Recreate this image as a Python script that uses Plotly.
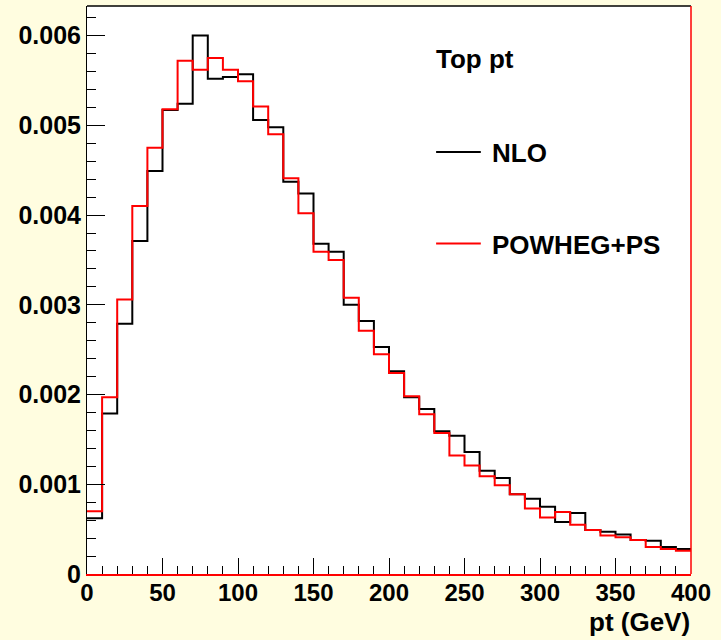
import plotly.graph_objects as go

# Top-quark transverse momentum, 10 GeV bins from 0 to 400 GeV
bin_edges = list(range(0, 410, 10))

nlo = [
    0.00062, 0.00179, 0.00279, 0.00371, 0.00449, 0.00517, 0.00524, 0.00600,
    0.00552, 0.00554, 0.00557, 0.00506, 0.00498, 0.00437, 0.00424, 0.00368,
    0.00359, 0.00300, 0.00282, 0.00253, 0.00226, 0.00197, 0.00184, 0.00159,
    0.00154, 0.00136, 0.00115, 0.00107, 0.00089, 0.00084, 0.00075, 0.00058,
    0.00068, 0.00049, 0.00047, 0.00044, 0.00038, 0.00037, 0.00030, 0.00028,
]

powheg_ps = [
    0.00070, 0.00197, 0.00306, 0.00410, 0.00475, 0.00518, 0.00572, 0.00562,
    0.00575, 0.00562, 0.00549, 0.00521, 0.00490, 0.00441, 0.00402, 0.00359,
    0.00350, 0.00308, 0.00271, 0.00245, 0.00224, 0.00198, 0.00178, 0.00157,
    0.00132, 0.00121, 0.00109, 0.00099, 0.00089, 0.00073, 0.00063, 0.00069,
    0.00055, 0.00049, 0.00043, 0.00041, 0.00038, 0.00030, 0.00028, 0.00026,
]

series_names = ["NLO", "POWHEG+PS"]
series_colors = ["#000000", "#ff0000"]

x_tickvals = [0, 50, 100, 150, 200, 250, 300, 350, 400]
y_tickvals = [0, 0.001, 0.002, 0.003, 0.004, 0.005, 0.006]
y_ticktext = ["0", "0.001", "0.002", "0.003", "0.004", "0.005", "0.006"]

title_text = "Top pt"
x_title = "pt (GeV)"

FONT = "Liberation Sans, Arial, Helvetica, sans-serif"
FS_X = 24
FS_Y = 25
FS_TEXT = 26
BG = "#fffde0"

fig = go.Figure()
for vals, color, name in zip([nlo, powheg_ps], series_colors, series_names):
    fig.add_trace(go.Scatter(
        x=bin_edges,
        y=vals + [vals[-1]],
        mode="lines",
        line=dict(shape="hv", color=color, width=2),
        name=name,
        hoverinfo="skip",
    ))

fig.update_layout(
    width=721,
    height=640,
    margin=dict(l=87, r=30, t=6, b=66),
    paper_bgcolor=BG,
    plot_bgcolor="#ffffff",
    showlegend=False,
    font=dict(family=FONT, size=FS_TEXT, color="#000000", weight="bold"),
)

fig.update_xaxes(
    range=[0, 400],
    tickvals=x_tickvals,
    ticks="inside",
    ticklen=16,
    tickwidth=1,
    tickcolor="#000000",
    minor=dict(dtick=10, ticks="inside", ticklen=8, tickcolor="#000000", tickwidth=1),
    showgrid=False,
    zeroline=False,
    showline=True,
    linecolor="#ff0000",
    linewidth=1.5,
    mirror=False,
    ticklabelstandoff=-4,
    tickfont=dict(family=FONT, size=FS_X, weight="bold"),
)

fig.update_yaxes(
    range=[0, 0.00633],
    tickvals=y_tickvals,
    ticktext=y_ticktext,
    ticks="inside",
    ticklen=18,
    tickwidth=1,
    tickcolor="#000000",
    minor=dict(dtick=0.0002, tick0=0, ticks="inside", ticklen=9, tickcolor="#000000", tickwidth=1),
    showgrid=False,
    zeroline=False,
    showline=True,
    linecolor="#000000",
    linewidth=1,
    mirror=False,
    tickfont=dict(family=FONT, size=FS_Y, weight="bold"),
)

# Frame: top edge black, right edge red
fig.add_shape(type="line", xref="paper", yref="paper", x0=0, x1=1, y0=1, y1=1,
              line=dict(color="#000000", width=1.5))
fig.add_shape(type="line", xref="paper", yref="paper", x0=1, x1=1, y0=0, y1=1,
              line=dict(color="#ff0000", width=1.5))

# Legend block
fig.add_annotation(xref="paper", yref="paper", x=0.5745, y=0.906, text=title_text,
                   showarrow=False, xanchor="left", yanchor="middle",
                   font=dict(family=FONT, size=FS_TEXT, weight="bold"))
legend_y = [0.741, 0.580]
for name, color, ly in zip(series_names, series_colors, legend_y):
    fig.add_shape(type="line", xref="paper", yref="paper", x0=0.578, x1=0.652,
                  y0=ly + 0.002, y1=ly + 0.002, line=dict(color=color, width=2))
    fig.add_annotation(xref="paper", yref="paper", x=0.668, y=ly, text=name,
                       showarrow=False, xanchor="left", yanchor="middle",
                       font=dict(family=FONT, size=FS_TEXT, weight="bold"))

# X-axis title, right-aligned under the axis
fig.add_annotation(xref="paper", yref="paper", x=1.0, y=-0.085, text=x_title,
                   showarrow=False, xanchor="right", yanchor="middle",
                   borderpad=0,
                   font=dict(family=FONT, size=FS_TEXT, weight="bold"))

fig.write_html("out.html")
